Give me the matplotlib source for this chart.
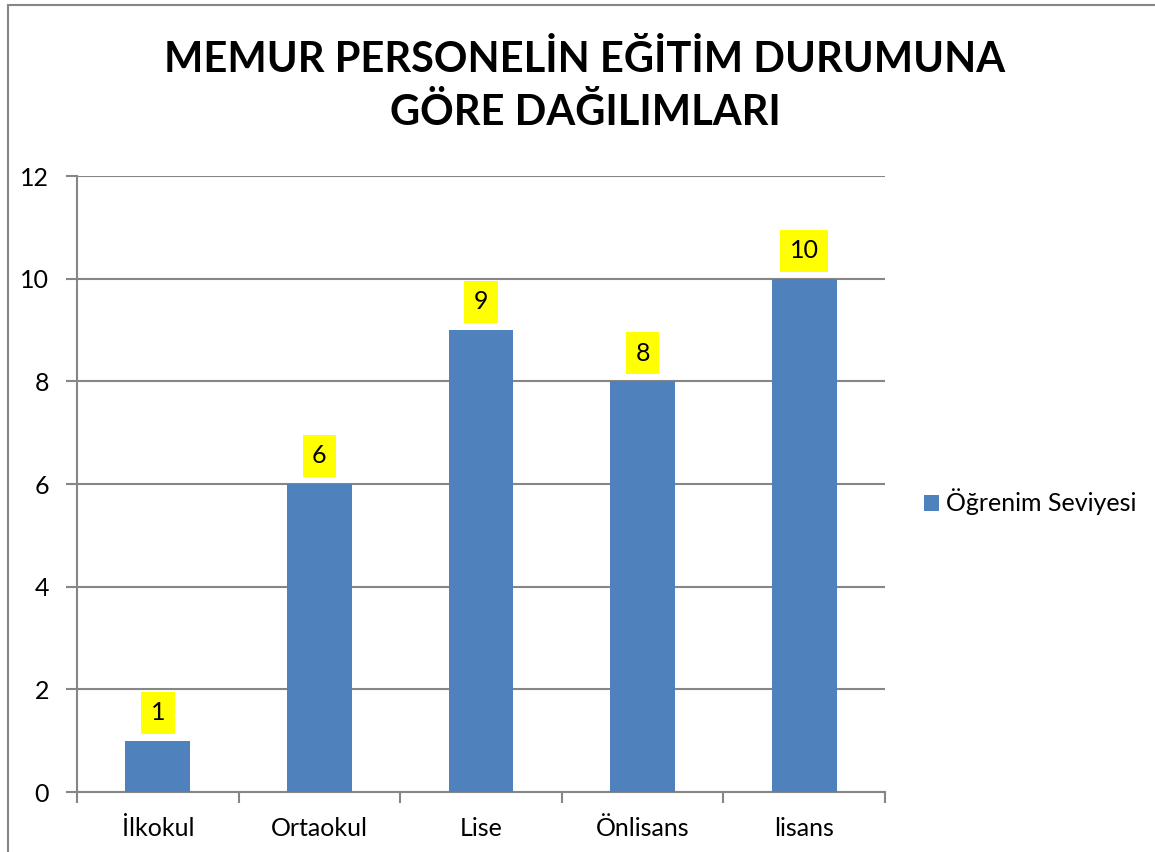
import matplotlib.pyplot as plt
from matplotlib.patches import Rectangle

categories = ["İlkokul", "Ortaokul", "Lise", "Önlisans", "lisans"]
values = [1, 6, 9, 8, 10]
series_name = "Öğrenim Seviyesi"
title = "MEMUR PERSONELİN EĞİTİM DURUMUNA\nGÖRE DAĞILIMLARI"

plt.rcParams['font.family'] = ['Lato', 'DejaVu Sans']
grid_color = "#868686"
bar_color = "#4F81BD"

fig = plt.figure(figsize=(11.55, 8.52), dpi=100)
ax = fig.add_axes([77/1155, 60/852, 808/1155, 616/852])

x = range(len(categories))
bars = ax.bar(x, values, width=0.4, color=bar_color, label=series_name, zorder=3)

for xi, v in zip(x, values):
    ax.annotate(str(v), (xi, v), xytext=(0, 12), textcoords="offset points",
                ha="center", va="bottom", fontsize=18,
                bbox=dict(boxstyle="square,pad=0.38", fc="#FFFF00", ec="none"))

ax.set_xlim(-0.5, len(categories) - 0.5)
ax.set_ylim(0, 12)
ax.set_yticks(range(0, 13, 2))
ax.set_xticks(x)
ax.set_xticklabels(categories, fontsize=18)
ax.tick_params(axis="y", labelsize=18, length=8, color=grid_color, width=1.5, pad=12)
ax.tick_params(axis="x", which="major", length=0, pad=18)
ax.set_xticks([i - 0.5 for i in range(len(categories) + 1)], minor=True)
ax.tick_params(axis="x", which="minor", length=8, color=grid_color, width=1.5)
ax.grid(axis="y", color=grid_color, linewidth=1.5, zorder=0)
for s in ["top", "right"]:
    ax.spines[s].set_visible(False)
for s in ["left", "bottom"]:
    ax.spines[s].set_color(grid_color)
    ax.spines[s].set_linewidth(1.5)

fig.text(585/1155, 1 - 86/852, title, ha="center", va="center",
         fontsize=30, fontweight="bold", linespacing=1.45)

fig.legend(handles=[bars], labels=[series_name], loc="center left",
           bbox_to_anchor=(901/1155, 1 - 502/852), frameon=False,
           fontsize=18, handlelength=0.6, handleheight=0.6, handletextpad=0.3)

fig.patches.append(Rectangle((8/1155, -0.1), 1.2, 1 - 5/852 + 0.1,
                             transform=fig.transFigure, fill=False,
                             ec=grid_color, lw=1.5))

fig.savefig("out.png", dpi=100)
